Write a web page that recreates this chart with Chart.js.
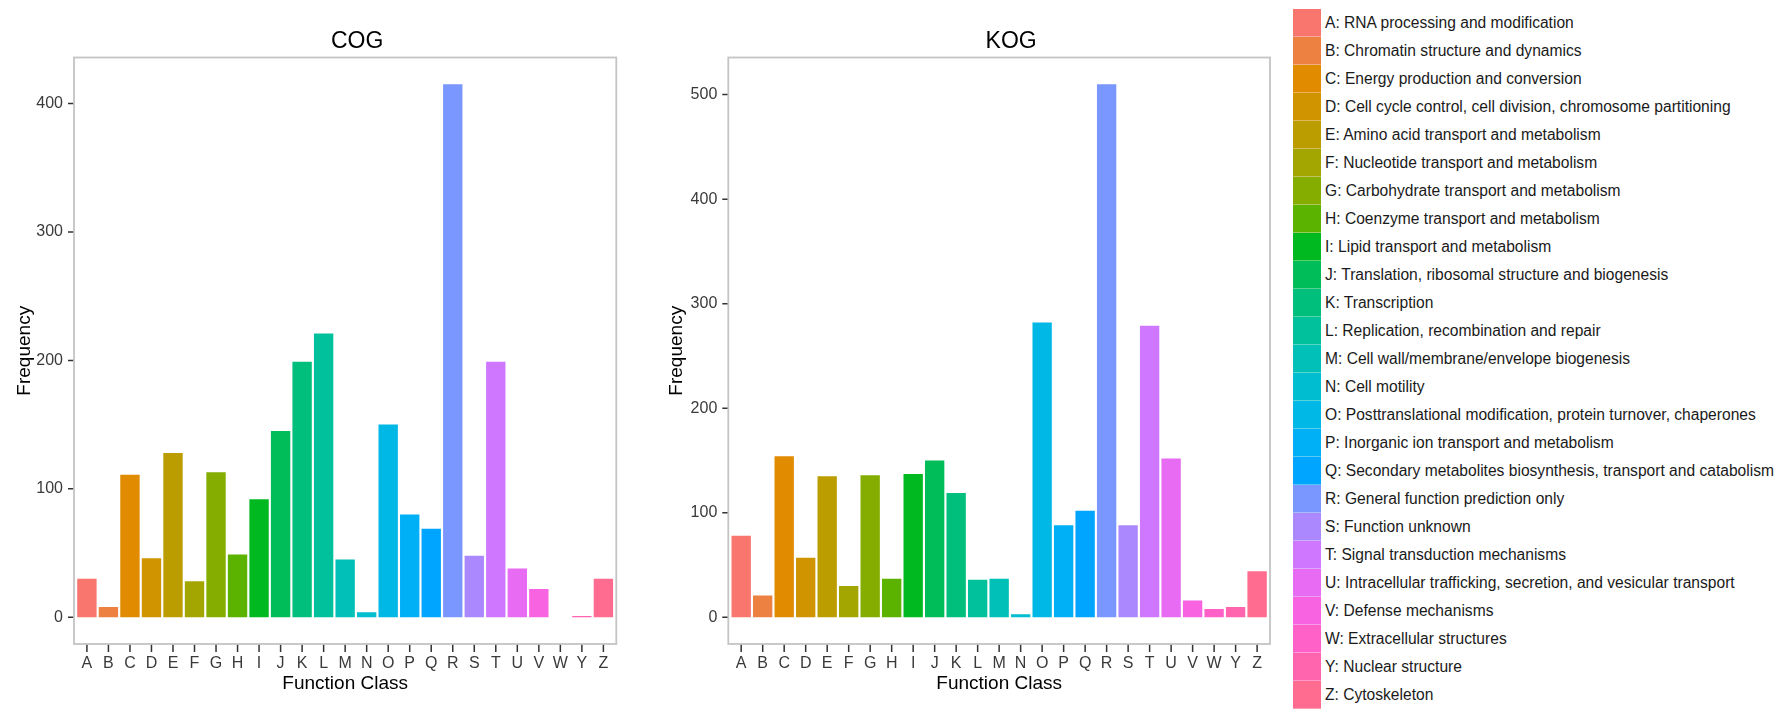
<!DOCTYPE html>
<html>
<head>
<meta charset="utf-8">
<script src="https://cdn.jsdelivr.net/npm/chart.js@4.4.1/dist/chart.umd.min.js"></script>
<style>
  html, body { margin: 0; padding: 0; background: #ffffff; }
  body { width: 1787px; height: 710px; position: relative; overflow: hidden;
         font-family: "Liberation Sans", Arial, Helvetica, sans-serif; }
  canvas { position: absolute; top: 0; }
  #cog { left: 0; }
  #kog { left: 640px; }
  #legend { position: absolute; left: 1293px; top: 9px; z-index: 2; }
  .row { height: 28px; display: flex; align-items: center; }
  .key { width: 28px; height: 28px; box-sizing: border-box;
         border-bottom: 1px solid rgba(255,255,255,0.35); flex: none; }
  .txt { margin-left: 4px; font-size: 15.6px; color: #1a1a1a; white-space: nowrap; }
</style>
</head>
<body>
<canvas id="cog" width="640" height="710"></canvas>
<canvas id="kog" width="650" height="710"></canvas>
<div id="legend"></div>
<script>
// Function class codes (x-axis) and their descriptions (legend)
const classes = ["A","B","C","D","E","F","G","H","I","J","K","L","M",
                 "N","O","P","Q","R","S","T","U","V","W","Y","Z"];
const classNames = [
  "RNA processing and modification",
  "Chromatin structure and dynamics",
  "Energy production and conversion",
  "Cell cycle control, cell division, chromosome partitioning",
  "Amino acid transport and metabolism",
  "Nucleotide transport and metabolism",
  "Carbohydrate transport and metabolism",
  "Coenzyme transport and metabolism",
  "Lipid transport and metabolism",
  "Translation, ribosomal structure and biogenesis",
  "Transcription",
  "Replication, recombination and repair",
  "Cell wall/membrane/envelope biogenesis",
  "Cell motility",
  "Posttranslational modification, protein turnover, chaperones",
  "Inorganic ion transport and metabolism",
  "Secondary metabolites biosynthesis, transport and catabolism",
  "General function prediction only",
  "Function unknown",
  "Signal transduction mechanisms",
  "Intracellular trafficking, secretion, and vesicular transport",
  "Defense mechanisms",
  "Extracellular structures",
  "Nuclear structure",
  "Cytoskeleton"
];

// Frequencies per class
const cogCounts = [30, 8, 111, 46, 128, 28, 113, 49, 92, 145, 199, 221, 45,
                   4, 150, 80, 69, 415, 48, 199, 38, 22, 0, 1, 30];
const kogCounts = [78, 21, 154, 57, 135, 30, 136, 37, 137, 150, 119, 36, 37,
                   3, 282, 88, 102, 510, 88, 279, 152, 16, 8, 10, 44];

const yTickStep = 100;

// Evenly spaced HCL hues (L=65, C=100), the usual discrete hue palette
function hclColor(h, c, l) {
  const hr = h * Math.PI / 180;
  const u = c * Math.cos(hr), v = c * Math.sin(hr);
  const Xn = 95.047, Yn = 100, Zn = 108.883;
  const Y = l > 8 ? Yn * Math.pow((l + 16) / 116, 3) : Yn * l / 903.3;
  const t = Xn + 15 * Yn + 3 * Zn;
  const un = 4 * Xn / t, vn = 9 * Yn / t;
  const up = u / (13 * l) + un, vp = v / (13 * l) + vn;
  const X = 9 * Y * up / (4 * vp);
  const Z = -X / 3 - 5 * Y + 3 * Y / vp;
  const x = X / 100, y = Y / 100, z = Z / 100;
  const lin = [
     3.240479 * x - 1.537150 * y - 0.498535 * z,
    -0.969256 * x + 1.875992 * y + 0.041556 * z,
     0.055648 * x - 0.204043 * y + 1.057311 * z
  ];
  const ch = lin.map(q => {
    let s = q <= 0.0031308 ? 12.92 * q : 1.055 * Math.pow(q, 1 / 2.4) - 0.055;
    s = Math.min(1, Math.max(0, s));
    return Math.round(s * 255);
  });
  return `rgb(${ch[0]},${ch[1]},${ch[2]})`;
}
const palette = classes.map((_, i) => hclColor(15 + 360 * i / classes.length, 100, 65));

const FONT = '"Liberation Sans", Arial, Helvetica, sans-serif';
const X_TICK_LEN = 8, Y_TICK_LEN = 6;

// Panel frame, outward axis ticks and the panel title
const panelDecor = {
  id: 'panelDecor',
  afterDraw(chart, args, opts) {
    const a = chart.chartArea, ctx = chart.ctx;
    const xs = chart.scales.x, ys = chart.scales.y;
    ctx.save();
    // ticks
    ctx.strokeStyle = '#333333';
    ctx.lineWidth = 1.5;
    ctx.beginPath();
    xs.ticks.forEach(t => {
      const px = xs.getPixelForValue(t.value);
      ctx.moveTo(px, a.bottom);
      ctx.lineTo(px, a.bottom + X_TICK_LEN);
    });
    ys.ticks.forEach(t => {
      const py = ys.getPixelForValue(t.value);
      ctx.moveTo(a.left - Y_TICK_LEN, py);
      ctx.lineTo(a.left, py);
    });
    ctx.stroke();
    // frame
    ctx.strokeStyle = '#c4c4c4';
    ctx.lineWidth = 1.8;
    ctx.strokeRect(a.left, a.top, a.right - a.left, a.bottom - a.top);
    // title
    ctx.fillStyle = '#000000';
    ctx.font = '23px ' + FONT;
    ctx.textAlign = 'center';
    ctx.textBaseline = 'alphabetic';
    ctx.fillText(opts.text, (a.left + a.right) / 2 + opts.shift, opts.baseline);
    ctx.restore();
  }
};

function makeChart(id, title, counts, yAxisWidth, yTitlePad, rightPad) {
  const top = Math.max(...counts);
  return new Chart(document.getElementById(id), {
    type: 'bar',
    data: {
      datasets: [{
        data: counts.map((v, i) => ({ x: i, y: v })),
        backgroundColor: palette,
        borderWidth: 0,
        barPercentage: 0.9,
        categoryPercentage: 1.0
      }]
    },
    options: {
      responsive: false,
      animation: false,
      layout: { padding: { left: 0, right: rightPad, top: 57.5, bottom: 0 } },
      plugins: {
        legend: { display: false },
        tooltip: { enabled: false },
        title: { display: false },
        panelDecor: { text: title, shift: 12, baseline: 48 }
      },
      scales: {
        x: {
          type: 'linear',
          offset: false,
          min: -0.6,
          max: classes.length - 0.4,
          afterFit(scale) { scale.height = 66; },
          afterBuildTicks(scale) { scale.ticks = scale.ticks.filter(t => Number.isInteger(t.value) && t.value >= 0 && t.value < classes.length); },
          grid: { display: false, offset: false, drawTicks: false },
          border: { display: false },
          ticks: {
            stepSize: 1, includeBounds: false, autoSkip: false, maxRotation: 0,
            maxTicksLimit: 40, padding: X_TICK_LEN + 2, color: '#3a3a3a',
            font: { family: FONT, size: 16 },
            callback: v => classes[v] ?? ''
          },
          title: {
            display: true, text: 'Function Class', color: '#000000',
            font: { family: FONT, size: 19, lineHeight: 1.2 },
            padding: { top: 0, bottom: 14.6 }
          }
        },
        y: {
          type: 'linear',
          min: -0.05 * top,
          max: 1.05 * top,
          afterFit(scale) { scale.width = yAxisWidth; },
          afterBuildTicks(scale) { scale.ticks = scale.ticks.filter(t => t.value >= 0 && t.value % yTickStep === 0); },
          grid: { display: false, drawTicks: false },
          border: { display: false },
          ticks: {
            stepSize: yTickStep, includeBounds: false, padding: Y_TICK_LEN + 5, color: '#3a3a3a',
            font: { family: FONT, size: 16 }
          },
          title: {
            display: true, text: 'Frequency', color: '#000000',
            font: { family: FONT, size: 19, lineHeight: 1.2 },
            padding: { top: yTitlePad, bottom: 0 }
          }
        }
      }
    },
    plugins: [panelDecor]
  });
}

makeChart('cog', 'COG', cogCounts, 74, 13.6, 23.7);
makeChart('kog', 'KOG', kogCounts, 88.3, 25.6, 20);

// Legend: colour key plus "code: description"
const legend = document.getElementById('legend');
classes.forEach((c, i) => {
  const row = document.createElement('div');
  row.className = 'row';
  const key = document.createElement('div');
  key.className = 'key';
  key.style.background = palette[i];
  const txt = document.createElement('div');
  txt.className = 'txt';
  txt.textContent = c + ': ' + classNames[i];
  row.appendChild(key);
  row.appendChild(txt);
  legend.appendChild(row);
});
</script>
</body>
</html>
